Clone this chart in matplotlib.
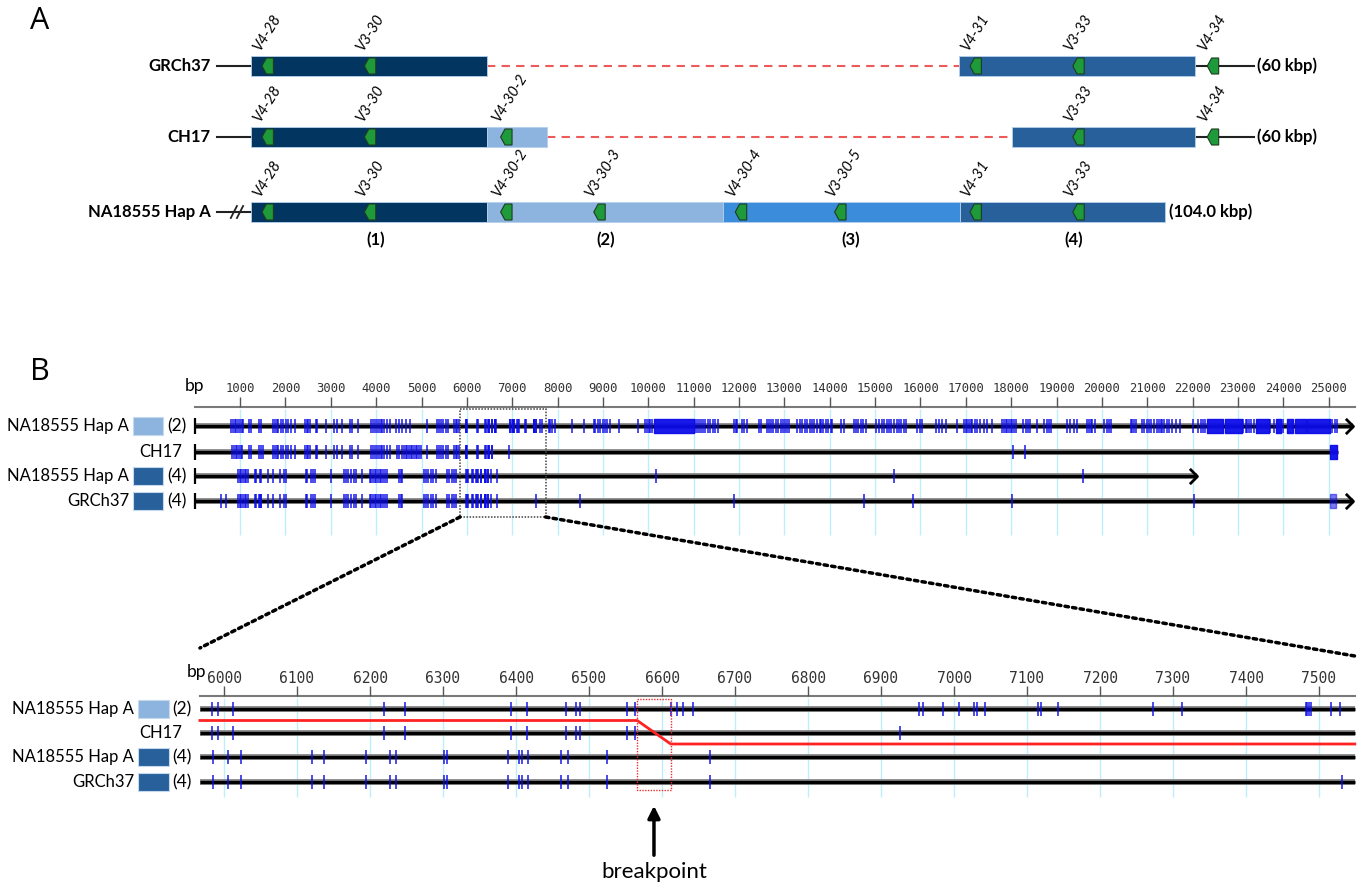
import numpy as np
import matplotlib.pyplot as plt
from matplotlib.patches import Rectangle, ConnectionPatch
from matplotlib.path import Path

plt.rcParams['font.family'] = ['Lato', 'DejaVu Sans']

# ---------------- panel A data (kbp) ----------------
seg_edges = [0, 26.85, 53.7, 80.67, 104.0]
seg_names = ['(1)', '(2)', '(3)', '(4)']

grch_blocks = [(0, 26.85, 0), (80.55, 107.4, 3)]
grch_gap = (26.85, 80.55)
grch_genes = ['V4-28', 'V3-30', 'V4-31', 'V3-33', 'V4-34']
grch_gene_pos = [1.25, 12.9, 81.8, 93.5, 108.8]

ch17_blocks = [(0, 26.85, 0), (26.85, 33.7, 1), (86.6, 107.4, 3)]
ch17_gap = (33.7, 86.6)
ch17_genes = ['V4-28', 'V3-30', 'V4-30-2', 'V3-33', 'V4-34']
ch17_gene_pos = [1.25, 12.9, 28.4, 93.5, 108.8]

hapA_blocks = [(seg_edges[i], seg_edges[i + 1], i) for i in range(4)]
hapA_genes = ['V4-28', 'V3-30', 'V4-30-2', 'V3-30-3', 'V4-30-4', 'V3-30-5', 'V4-31', 'V3-33']
hapA_gene_pos = [1.25, 12.9, 28.4, 39.0, 55.1, 66.4, 81.8, 93.5]

flank_left = -3.9
ref_tail_end = 114.1
size_labels = ['(60 kbp)', '(60 kbp)', '(104.0 kbp)']

# ---------------- panel B data (bp) ----------------
row_names = ['NA18555 Hap A', 'CH17', 'NA18555 Hap A', 'GRCh37']
row_segs = ['(2)', None, '(4)', '(4)']
row_ends = [25540, 25200, 22102, 25540]
row_arrow = [True, False, True, True]

var_hapA2 = [809, 846, 882, 919, 956, 1000, 1037, 1066, 1198, 1235, 1419, 1470, 1720, 1764,
             1809, 1845, 1897, 1941, 2007, 2058, 2117, 2205, 2433, 2470, 2499, 2536, 2668, 2705,
             2889, 3073, 3132, 3256, 3426, 3477, 3609, 3896, 3940, 3977, 4028, 4065, 4102, 4138,
             4175, 4249, 4308, 4433, 4506, 4580, 4653, 4741, 5131, 5351, 5388, 5425, 5484, 5535,
             5586, 5719, 5755, 5792, 5836,
             5984, 5992, 6012, 6219, 6248, 6393, 6415, 6469, 6482, 6487, 6552, 6563, 6613, 6621,
             6629, 6642, 6952, 6958, 6985, 7007, 7027, 7031, 7042, 7115, 7119, 7143, 7273, 7313,
             7482, 7484, 7486, 7489, 7516, 7529,
             7621, 7658, 7805, 7842, 7878, 7952, 8319, 8591, 8797, 8834, 8885, 8944, 9003, 9054,
             9091, 9150, 9348, 9767, 9936, 9973, 10010, 10047, 10084, 11040, 11077, 11113, 11165,
             11209, 11260, 11312, 11371, 11430, 11481, 11530, 11890, 11930, 11964, 12075, 12112,
             12185, 12442, 12480, 12626, 12663, 12700, 12759, 12810, 12862, 12920, 12970, 13010,
             13050, 13100, 13287, 13345, 13397, 13456, 13507, 13566, 13617, 13654, 13728, 13786,
             13816, 13860, 13911, 13963, 14022, 14058, 14242, 14316, 14536, 14573, 14624, 14683,
             14742, 14793, 15014, 15087, 15146, 15198, 15256, 15308, 15359, 15418, 15492, 15528,
             15580, 15639, 15675, 15933, 15991, 16043, 16337, 16410, 16484, 16557, 16800, 16962,
             16998, 17035, 17072, 17109, 17145, 17197, 17241, 17314, 17403, 17476, 17586, 17807,
             17844, 17880, 17917, 17954, 17991, 18027, 18064, 18101, 18270, 18321, 18373, 18417,
             18564, 18726, 18784, 18836, 18873, 19221, 19294, 19383, 19456, 19677, 19713, 19750,
             19787, 19846, 20044, 20103, 20154, 20206, 20632, 20669, 20706, 20742, 20889, 20926,
             20985, 21036, 21088, 21147, 21205, 21257, 21294, 21330, 21367, 21426, 21477, 21551,
             21624, 21720, 22014, 22117, 22176, 22234, 22264, 23116, 23168, 23205, 23240, 23280,
             23350, 23705, 23790, 24000, 25080, 25130, 25175]
blk_hapA2 = [(10120, 11003), (22323, 22675), (22705, 23095), (23390, 23680), (23830, 23955),
             (24070, 24220), (24250, 24510), (24530, 25030)]

var_ch17 = [831, 868, 904, 941, 978, 1015, 1052, 1198, 1235, 1419, 1470, 1514, 1720, 1764, 1809,
            1845, 1897, 1941, 2007, 2058, 2117, 2205, 2433, 2470, 2499, 2536, 2668, 2705, 2889,
            3073, 3132, 3256, 3426, 3477, 3609, 3896, 3940, 3977, 4028, 4065, 4102, 4138, 4175,
            4249, 4308, 4455, 4506, 4565, 4616, 4653, 4690, 4727, 4763, 4800, 4837, 4874, 4910,
            4947, 4984, 5131, 5351, 5388, 5425, 5484, 5535, 5586, 5719, 5755, 5792, 5836,
            5984, 5992, 6012, 6219, 6248, 6393, 6415, 6469, 6482, 6487, 6552, 6563, 6926,
            18042, 18307]
blk_ch17 = [(25030, 25190)]

var_hapA4 = [963, 1000, 1029, 1066, 1103, 1140, 1176, 1323, 1360, 1434, 1470, 1617, 1735, 1882,
             1970, 2007, 2448, 2485, 2573, 2617, 2646, 3014, 3293, 3330, 3381, 3440, 3514, 3550,
             3697, 3859, 3896, 3933, 3969, 4006, 4043, 4080, 4116, 4153, 4190, 4249, 4506, 4543,
             4580, 5058, 5094, 5146, 5204, 5263, 5315, 5572, 5608, 5667, 5719, 5755,
             5985, 6005, 6023, 6120, 6137, 6195, 6228, 6236, 6301, 6305, 6389, 6404, 6408, 6416,
             6461, 6471, 6524, 6666,
             10171, 15418, 19588]
blk_hapA4 = []

var_grch = [588, 684, 963, 1000, 1029, 1066, 1103, 1140, 1176, 1323, 1360, 1419, 1434, 1455,
            1470, 1617, 1735, 1882, 1970, 2007, 2448, 2485, 2573, 2617, 2646, 3014, 3293, 3330,
            3381, 3440, 3514, 3550, 3697, 3859, 3896, 3933, 3969, 4006, 4043, 4080, 4116, 4153,
            4190, 4249, 4506, 4543, 4580, 5058, 5094, 5146, 5204, 5263, 5315, 5572, 5608, 5667,
            5719, 5755,
            5985, 6005, 6023, 6120, 6137, 6195, 6228, 6236, 6301, 6305, 6389, 6404, 6408, 6416,
            6461, 6471, 6524, 6666, 7531,
            8503, 11884, 14757, 15844, 18027, 22029]
blk_grch = [(25030, 25150)]

row_vars = [var_hapA2, var_ch17, var_hapA4, var_grch]
row_blocks = [blk_hapA2, blk_ch17, blk_hapA4, blk_grch]

zoom_range = (5967, 7549)
zoom_box = (5849, 7734)
breakpoint_span = (6566, 6612)

# ---------------- figure ----------------
W, H = 1359, 884
fig = plt.figure(figsize=(W / 100, H / 100), dpi=100)


def band(y0, y1, origin_px, px_per_unit, origin_val=0.0):
    ax = fig.add_axes([0, 1 - y1 / H, 1, (y1 - y0) / H])
    ax.set_xlim(origin_val - origin_px / px_per_unit,
                origin_val + (W - origin_px) / px_per_unit)
    ax.set_ylim(y1, y0)
    ax.axis('off')
    return ax


axL = band(0, H, 0, 1)
axA = band(0, 290, 251, 8.789)
axB = band(290, 560, 194.7, 0.04536)
axC = band(560, H, 224, 0.73, 6000)

axL.text(30, 21, 'A', fontsize=22, va='center', family=['Open Sans', 'DejaVu Sans'])
axL.text(30, 372, 'B', fontsize=22, va='center', family=['Open Sans', 'DejaVu Sans'])

# ---------------- panel A ----------------
seg_cols = ['#023660', '#8db4de', '#3b8ddb', '#27609b']
rowsA = [66, 137, 212]
bar_h = 20


def gene(ax, x, y, name):
    w, h = 1.3, 16
    ax.fill([x, x + 0.5, x + w, x + w, x + 0.5],
            [y, y - h / 2, y - h / 2, y + h / 2, y + h / 2],
            fc='#1f9a3b', ec='#1e3b20', lw=0.8, zorder=4)
    ax.text(x + 0.1, y - bar_h / 2 - 2, name, rotation=58, rotation_mode='anchor',
            ha='left', va='bottom', style='italic', fontsize=10.5, zorder=5)


rowsA_info = [
    ('GRCh37', grch_blocks, grch_gap, grch_genes, grch_gene_pos, True),
    ('CH17', ch17_blocks, ch17_gap, ch17_genes, ch17_gene_pos, True),
    ('NA18555 Hap A', hapA_blocks, None, hapA_genes, hapA_gene_pos, False),
]
for y, (name, blocks, gap, genes, gpos, tail), size in zip(rowsA, rowsA_info, size_labels):
    axA.plot([flank_left, 0], [y, y], color='#222', lw=1.5, zorder=1)
    for s, e, ci in blocks:
        axA.barh(y, e - s, left=s, height=bar_h, color=seg_cols[ci],
                 edgecolor='#b4d0ec', lw=0.6, zorder=2)
    if gap:
        axA.plot(gap, [y, y], color='#ec5a5a', ls=(0, (4, 3)), lw=1.5, zorder=1)
    end = max(e for s, e, ci in blocks)
    if tail:
        axA.plot([end, ref_tail_end], [y, y], color='#222', lw=1.5, zorder=1)
        axA.text(ref_tail_end + 0.4, y, size, fontsize=12, weight='bold', va='center')
    else:
        axA.text(end + 0.4, y, size, fontsize=12, weight='bold', va='center')
        for dx in (-0.35, 0.35):
            xb = -1.6 + dx
            axA.plot([xb - 0.35, xb + 0.35], [y + 6, y - 6], color='#222', lw=1.3, zorder=3)
    for g, x in zip(genes, gpos):
        gene(axA, x, y, g)
    axA.text(-4.6, y, name, fontsize=12, weight='bold', ha='right', va='center')

seg_label_x = [14.2, 40.3, 68.2, 93.6]
for x, lab in zip(seg_label_x, seg_names):
    axA.text(x, 240, lab, fontsize=12, weight='bold', ha='center', va='center')

# ---------------- panel B helpers ----------------
chev = Path([(-1, 1), (0, 0), (-1, -1)], [Path.MOVETO, Path.LINETO, Path.LINETO])
var_col = '#0c0ce8'
grid_col = '#bdeffa'


def seq_line(ax, x0, x1, y, start_tick, arrow):
    ax.plot([x0, x1], [y, y], color='#8a8a8a', lw=4.2, solid_capstyle='butt', zorder=2)
    ax.plot([x0, x1], [y, y], color='black', lw=2.4, solid_capstyle='butt', zorder=3)
    if start_tick:
        ax.plot(x0, y, marker='|', ms=11, mew=1.6, color='black', zorder=3)
    if arrow:
        ax.plot(x1, y, marker=chev, ms=11, mew=2.0, mec='black', mfc='none', zorder=3)


def row_labels(y, name, seg, right_px, box_px, seg_px, ch17_px):
    if seg is None:
        axL.text(ch17_px, y, name, fontsize=12, ha='right', va='center')
        return
    axL.text(right_px, y, name, fontsize=12, ha='right', va='center')
    col = seg_cols[1] if seg == '(2)' else seg_cols[3]
    axL.add_patch(Rectangle((box_px[0], y - 9), box_px[1] - box_px[0], 18,
                            fc=col, ec='#c5d9ee', lw=0.8))
    axL.text(seg_px, y, seg, fontsize=12.5, ha='left', va='center')


# ---------------- panel B overview ----------------
rowsB = [426, 452, 476, 501]
kb_ticks = np.arange(1000, 25001, 1000)
axB.vlines(kb_ticks, 409, 535, color=grid_col, lw=1, zorder=0)
axB.plot([0, 25580], [407, 407], color='#7a7a7a', lw=1.5)
axB.vlines(kb_ticks, 397, 407, color='#555', lw=1)
for t in kb_ticks:
    axB.text(t, 388, str(t), ha='center', va='center', family='DejaVu Sans Mono',
             fontsize=8.8, color='#333')
axL.text(195, 386, 'bp', fontsize=12.5, ha='center', va='center')

for y, vars_, blks, end, arr, name, seg in zip(rowsB, row_vars, row_blocks, row_ends,
                                               row_arrow, row_names, row_segs):
    seq_line(axB, 0, end, y, True, arr)
    axB.vlines(vars_, y - 7, y + 7, color=var_col, lw=1.3, alpha=0.8, zorder=4)
    if blks:
        axB.broken_barh([(s, e - s) for s, e in blks], (y - 7, 14),
                        color=var_col, alpha=0.95 if y != rowsB[3] else 0.55, zorder=4)
    row_labels(y, name, seg, 129, (133, 163), 167, 182)

axB.add_patch(Rectangle((zoom_box[0], 409), zoom_box[1] - zoom_box[0], 108, fill=False,
                        ec='#444', lw=1.1, ls=(0, (1, 1)), zorder=5))

# ---------------- panel B zoom ----------------
rowsC = [709, 733, 757, 782]
bp_ticks = np.arange(6000, 7501, 100)
axC.vlines(bp_ticks, 698, 797, color=grid_col, lw=1, zorder=0)
axC.plot(zoom_range, [696, 696], color='#7a7a7a', lw=1.5)
axC.vlines(bp_ticks, 686, 696, color='#555', lw=1)
for t in bp_ticks:
    axC.text(t, 678, str(t), ha='center', va='center', family='DejaVu Sans Mono',
             fontsize=10.5, color='#333')
axL.text(197, 672, 'bp', fontsize=12.5, ha='center', va='center')

for y, vars_, name, seg in zip(rowsC, row_vars, row_names, row_segs):
    seq_line(axC, zoom_range[0], zoom_range[1], y, False, False)
    v = [p for p in vars_ if zoom_range[0] <= p <= zoom_range[1]]
    axC.vlines(v, y - 7, y + 7, color=var_col, lw=1.3, alpha=0.8, zorder=4)
    row_labels(y, name, seg, 134, (138, 169), 172, 182)

# switch line between the (2) and (4) haplotype paths
y_up, y_dn = (rowsC[0] + rowsC[1]) / 2 - 0.5, (rowsC[1] + rowsC[2]) / 2 - 1
axC.plot([zoom_range[0], breakpoint_span[0], breakpoint_span[1], zoom_range[1]],
         [y_up, y_up, y_dn, y_dn], color='#ff2222', lw=2, zorder=5)
axC.add_patch(Rectangle((breakpoint_span[0], 699), breakpoint_span[1] - breakpoint_span[0], 91,
                        fill=False, ec='#e83030', lw=1, ls=(0, (1, 1)), zorder=6))
bp_mid = sum(breakpoint_span) / 2
axC.annotate('', xy=(bp_mid, 803), xytext=(bp_mid, 858),
             arrowprops=dict(arrowstyle='-|>', lw=2.5, color='black', mutation_scale=18))
axC.text(bp_mid, 872, 'breakpoint', fontsize=16, ha='center', va='center')

# dotted zoom connectors
for xa, xb, yb in [(zoom_box[0], zoom_range[0], 648), (zoom_box[1], zoom_range[1], 656)]:
    con = ConnectionPatch(xyA=(xa, 517), coordsA=axB.transData, xyB=(xb, yb),
                          coordsB=axC.transData, color='black', lw=2.5, ls=(0, (1, 1.2)))
    fig.add_artist(con)

fig.savefig('out.png', dpi=100)
